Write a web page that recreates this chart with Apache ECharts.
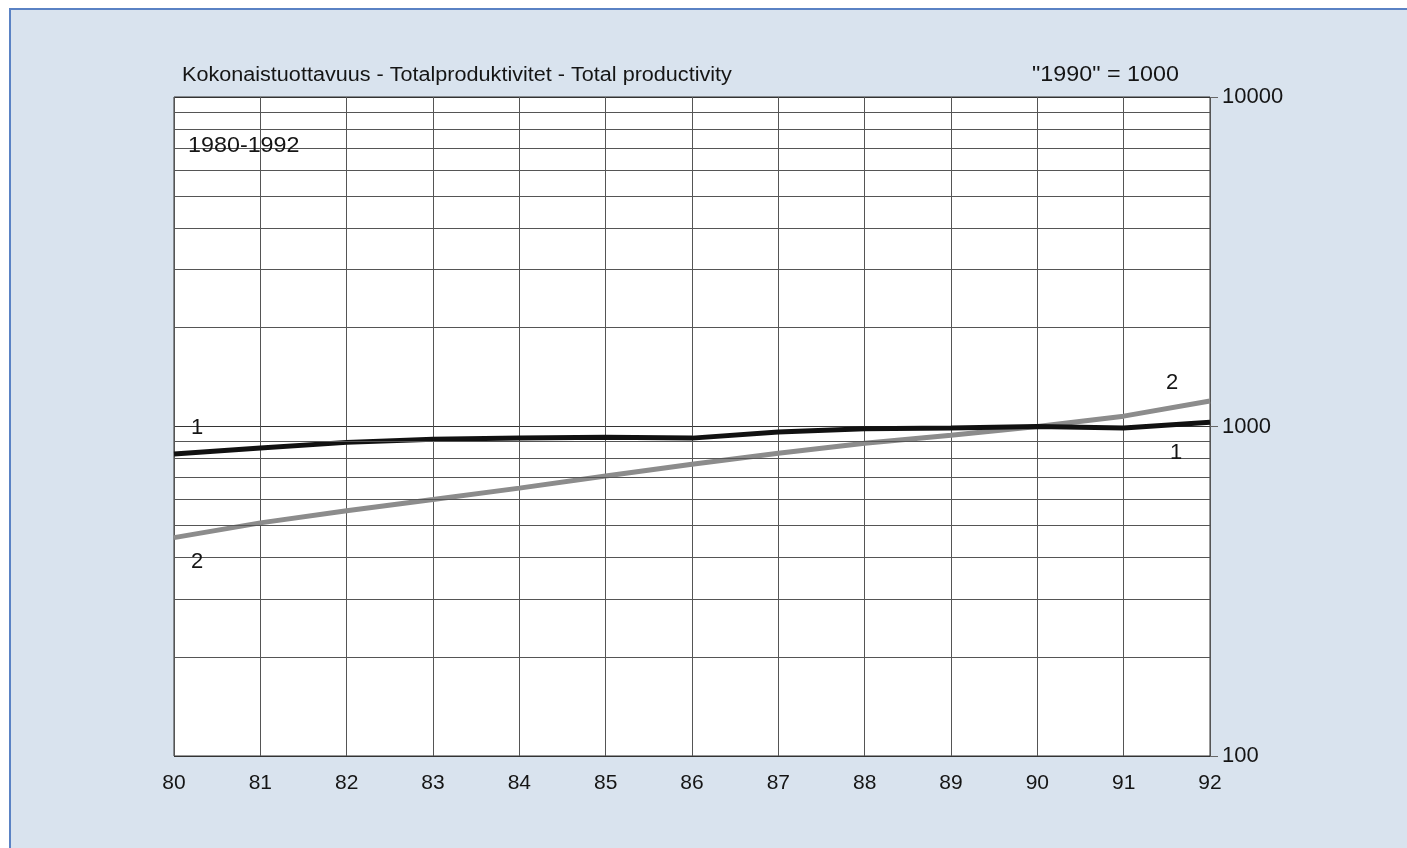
<!DOCTYPE html>
<html>
<head>
<meta charset="utf-8">
<script src="https://cdn.jsdelivr.net/npm/echarts@6/dist/echarts.min.js"></script>
<style>
  html, body { margin: 0; padding: 0; background: #fff; }
  #frame { position: absolute; left: 9px; top: 8px; width: 1398px; height: 840px;
           background: #d9e3ee; border-top: 2px solid #5a82c4; border-left: 2px solid #5a82c4; box-sizing: border-box; }
  #echart { position: absolute; left: 0; top: 0; width: 1407px; height: 848px; }
</style>
</head>
<body>
<div id="frame"></div>
<div id="echart"></div>
<script>
// vuodet
var years = ['80','81','82','83','84','85','86','87','88','89','90','91','92'];
// 1 = kokonaistuottavuus (musta)
var series1 = [825, 860, 895, 915, 922, 928, 922, 962, 985, 990, 1000, 990, 1030];
// 2 = harmaa
var series2 = [460, 510, 555, 600, 650, 708, 768, 830, 890, 940, 1000, 1075, 1195];
// log-asteikon apuviivat
var minorLines = [200, 300, 400, 500, 600, 700, 800, 900, 2000, 3000, 4000, 5000, 6000, 7000, 8000, 9000];

var myChart = echarts.init(document.getElementById('echart'));
var font = 'Liberation Sans, Arial, sans-serif';

function tag(txt, x, v, off) {
    return {
        coord: [x, v], value: txt,
        symbol: 'circle', symbolSize: 1,
        itemStyle: {color: 'rgba(0,0,0,0)'},
        label: {show: true, position: 'inside', formatter: txt, offset: off,
                color: '#151515', fontSize: 22, fontFamily: font}
    };
}

var option = {
    animation: false,
    backgroundColor: 'transparent',
    grid: {
        left: 174, right: 197, top: 97, bottom: 92,
        show: true, backgroundColor: '#fff', borderColor: '#333', borderWidth: 1
    },
    graphic: [
        {type: 'text', x: 182, y: 65, scaleX: 1.08, style: {text: 'Kokonaistuottavuus - Totalproduktivitet - Total productivity',
            fontSize: 20, fontFamily: font, fill: '#151515'}},
        {type: 'text', x: 1032, y: 64, scaleX: 1.06, style: {text: '"1990" = 1000',
            fontSize: 22, fontFamily: font, fill: '#151515'}},
        {type: 'text', x: 188, y: 135, scaleX: 1.06, z: 10, style: {text: '1980-1992',
            fontSize: 22, fontFamily: font, fill: '#151515'}}
    ],
    xAxis: {
        type: 'category',
        data: years,
        boundaryGap: false,
        axisLine: {show: false},
        axisTick: {show: false},
        axisLabel: {color: '#151515', fontSize: 21, fontFamily: font, margin: 17},
        splitLine: {show: true, lineStyle: {color: '#555', width: 1}}
    },
    yAxis: {
        type: 'log',
        logBase: 10,
        min: 100,
        max: 10000,
        position: 'right',
        axisLine: {show: false},
        axisTick: {show: true, length: 8, lineStyle: {color: '#666'}},
        axisLabel: {color: '#151515', fontSize: 22, fontFamily: font, margin: 12,
                    formatter: function (v) { return String(Math.round(v)); }},
        splitLine: {show: true, lineStyle: {color: '#333', width: 1}}
    },
    series: [
        {
            name: '2',
            type: 'line',
            data: series2,
            symbol: 'none',
            lineStyle: {color: '#8c8c8c', width: 5},
            z: 3,
            markLine: {
                silent: true,
                symbol: 'none',
                label: {show: false},
                lineStyle: {color: '#555', width: 1, type: 'solid'},
                data: minorLines.map(function (v) { return {yAxis: v}; })
            },
            markPoint: {
                silent: true,
                data: [tag('2', '80', series2[0], [23, 24]), tag('2', '92', series2[12], [-38, -18])]
            }
        },
        {
            name: '1',
            type: 'line',
            data: series1,
            symbol: 'none',
            lineStyle: {color: '#111', width: 5},
            z: 4,
            markPoint: {
                silent: true,
                data: [tag('1', '80', series1[0], [23, -26]), tag('1', '92', series1[12], [-34, 31])]
            }
        }
    ]
};
myChart.setOption(option);
</script>
</body>
</html>
